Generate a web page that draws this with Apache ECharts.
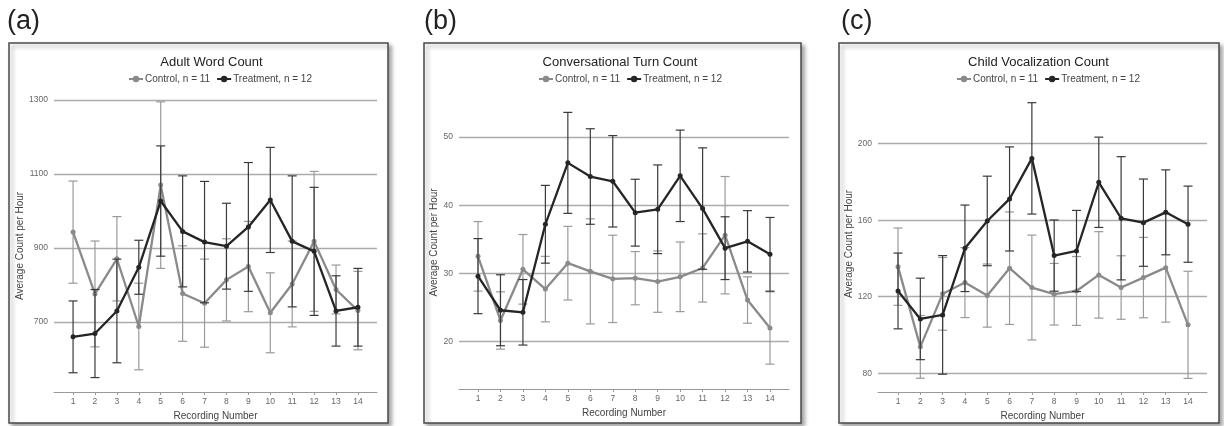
<!DOCTYPE html>
<html>
<head>
<meta charset="utf-8">
<script src="https://cdn.jsdelivr.net/npm/echarts@6/dist/echarts.min.js"></script>
<style>
  html, body { margin: 0; padding: 0; background: #fff; }
  #main { width: 1224px; height: 426px; }
</style>
</head>
<body>
<div id="main"></div>
<script>
// recording sessions on the x axis
const recordingNumbers = [1, 2, 3, 4, 5, 6, 7, 8, 9, 10, 11, 12, 13, 14]
const groupNames = ['Control, n = 11', 'Treatment, n = 12']
const panelLetters = ['(a)', '(b)', '(c)']
const panelTitles = ['Adult Word Count', 'Conversational Turn Count', 'Child Vocalization Count']

// (a) adult word count: means and error bar half-widths
const awcControl = [943, 776, 871, 688, 1070, 777, 751, 814, 850, 725, 803, 918, 788, 731]
const awcControlErr = [138, 143, 114, 117, 225, 129, 119, 111, 122, 108, 116, 189, 66, 106]
const awcTreatment = [660, 669, 730, 848, 1027, 945, 916, 905, 957, 1030, 918, 891, 730, 740]
const awcTreatmentErr = [97, 119, 140, 73, 149, 150, 164, 116, 174, 142, 177, 173, 95, 105]
const awcTicks = [700, 900, 1100, 1300]

// (b) conversational turn count
const ctcControl = [32.5, 23.1, 30.6, 27.7, 31.5, 30.3, 29.2, 29.3, 28.8, 29.5, 30.8, 35.6, 26.1, 22.0]
const ctcControlErr = [5.1, 4.2, 5.1, 4.8, 5.4, 7.7, 6.4, 3.9, 4.5, 5.1, 5.0, 8.6, 3.4, 5.3]
const ctcTreatment = [29.6, 24.6, 24.3, 37.2, 46.2, 44.2, 43.5, 38.9, 39.4, 44.3, 39.5, 33.7, 34.7, 32.8]
const ctcTreatmentErr = [5.5, 5.2, 4.8, 5.7, 7.4, 7.0, 6.7, 4.9, 6.5, 6.7, 8.9, 4.6, 4.5, 5.4]
const ctcTicks = [20, 30, 40, 50]

// (c) child vocalization count
const cvcControl = [135.7, 93.8, 121.5, 127.4, 120.6, 134.9, 124.8, 121.3, 123.0, 131.4, 124.8, 130.0, 135.2, 105.3]
const cvcControlErr = [20.2, 16.4, 19.0, 18.3, 16.5, 29.4, 27.4, 16.1, 18.0, 22.6, 16.6, 21.0, 28.5, 28.0]
const cvcTreatment = [123.0, 108.4, 110.5, 145.3, 159.6, 171.1, 192.3, 141.5, 143.9, 179.8, 161.0, 158.7, 164.1, 157.9]
const cvcTreatmentErr = [19.8, 21.3, 31.0, 22.6, 23.4, 27.2, 29.1, 18.6, 21.2, 23.6, 32.2, 22.8, 22.2, 19.9]
const cvcTicks = [80, 120, 160, 200]

const FONT = '"Liberation Sans", Arial, Helvetica, sans-serif'
const CONTROL_COLOR = '#8a8a8a'
const TREAT_COLOR = '#252525'

// panel geometry (pixels) and axis extents
const panels = [
    { frame: [9, 43, 379, 380], grid: { left: 54, top: 100, width: 323, height: 292 },
      xMin: 0.13, xMax: 14.87, yMin: 511, yMax: 1300, nameGap: 19, legendLeft: 128, letterX: 7,
      ticks: awcTicks, control: awcControl, controlErr: awcControlErr, treat: awcTreatment, treatErr: awcTreatmentErr },
    { frame: [424, 43, 377, 380], grid: { left: 459, top: 96, width: 330, height: 293 },
      xMin: 0.154, xMax: 14.846, yMin: 13.06, yMax: 56, nameGap: 15, legendLeft: 538, letterX: 424,
      ticks: ctcTicks, control: ctcControl, controlErr: ctcControlErr, treat: ctcTreatment, treatErr: ctcTreatmentErr },
    { frame: [839, 43, 380, 380], grid: { left: 878, top: 96, width: 329, height: 296 },
      xMin: 0.103, xMax: 14.85, yMin: 70.2, yMax: 224.9, nameGap: 17, legendLeft: 956, letterX: 841,
      ticks: cvcTicks, control: cvcControl, controlErr: cvcControlErr, treat: cvcTreatment, treatErr: cvcTreatmentErr }
]

const errorBars = (color) => (params, api) => {
    const x = api.value(0), m = api.value(1), e = api.value(2)
    const hi = api.coord([x, m + e])
    const lo = api.coord([x, m - e])
    const w = 4.5
    const style = { stroke: color, lineWidth: 1.2 }
    return {
        type: 'group',
        children: [
            { type: 'line', shape: { x1: hi[0], y1: hi[1], x2: lo[0], y2: lo[1] }, style },
            { type: 'line', shape: { x1: hi[0] - w, y1: hi[1], x2: hi[0] + w, y2: hi[1] }, style },
            { type: 'line', shape: { x1: lo[0] - w, y1: lo[1], x2: lo[0] + w, y2: lo[1] }, style }
        ]
    }
}

const grids = [], xAxes = [], yAxes = [], legends = [], lineSeries = [], barSeries = [], graphics = []

panels.forEach((p, i) => {
    grids.push(p.grid)
    xAxes.push({
        type: 'value', gridIndex: i, min: p.xMin, max: p.xMax,
        name: 'Recording Number', nameLocation: 'middle', nameGap: 13,
        nameTextStyle: { fontFamily: FONT, fontSize: 10, color: '#444' },
        axisLine: { show: true, lineStyle: { color: '#999', width: 1 } },
        axisTick: { show: true, length: 3, customValues: recordingNumbers, lineStyle: { color: '#999' } },
        axisLabel: { customValues: recordingNumbers, fontFamily: FONT, fontSize: 8.5, color: '#666', margin: 5 },
        splitLine: { show: false }
    })
    yAxes.push({
        type: 'value', gridIndex: i, min: p.yMin, max: p.yMax,
        name: 'Average Count per Hour', nameLocation: 'middle', nameGap: p.nameGap,
        nameTextStyle: { fontFamily: FONT, fontSize: 10, color: '#444' },
        axisLine: { show: false },
        axisTick: { show: false, customValues: p.ticks },
        axisLabel: { customValues: p.ticks, formatter: v => String(v), fontFamily: FONT, fontSize: 8.5, color: '#666', margin: 6 },
        splitLine: { show: true, lineStyle: { color: '#ababab', width: 1.3 } }
    })
    legends.push({
        left: p.legendLeft, top: 74, padding: 0, itemGap: 6,
        itemWidth: 14, itemHeight: 8,
        data: groupNames,
        textStyle: { fontFamily: FONT, fontSize: 10, color: '#444', padding: [0, 0, 0, -3] }
    })
    const ctrl = recordingNumbers.map((r, k) => [r, p.control[k], p.controlErr[k]])
    const trt = recordingNumbers.map((r, k) => [r, p.treat[k], p.treatErr[k]])
    // line series first so the legend takes its icons from them
    lineSeries.push(
        { name: groupNames[0], type: 'line', xAxisIndex: i, yAxisIndex: i, data: ctrl.map(d => [d[0], d[1]]),
          symbol: 'circle', symbolSize: 5, color: CONTROL_COLOR,
          lineStyle: { width: 2.3, color: CONTROL_COLOR }, itemStyle: { color: CONTROL_COLOR }, z: 3 },
        { name: groupNames[1], type: 'line', xAxisIndex: i, yAxisIndex: i, data: trt.map(d => [d[0], d[1]]),
          symbol: 'circle', symbolSize: 5, color: TREAT_COLOR,
          lineStyle: { width: 2.3, color: TREAT_COLOR }, itemStyle: { color: TREAT_COLOR }, z: 5 }
    )
    barSeries.push(
        { name: groupNames[0], type: 'custom', xAxisIndex: i, yAxisIndex: i, data: ctrl, color: '#9a9a9a',
          renderItem: errorBars('#9a9a9a'), encode: { x: 0, y: 1 }, z: 2, silent: true },
        { name: groupNames[1], type: 'custom', xAxisIndex: i, yAxisIndex: i, data: trt, color: '#3a3a3a',
          renderItem: errorBars('#3a3a3a'), encode: { x: 0, y: 1 }, z: 4, silent: true }
    )
    const [fx, fy, fw, fh] = p.frame
    graphics.push(
        { type: 'rect', z: -10, shape: { x: fx, y: fy, width: fw, height: fh },
          style: { fill: '#fff', stroke: '#4a4a4a', lineWidth: 1.5,
                   shadowBlur: 4, shadowOffsetX: 3, shadowOffsetY: 3, shadowColor: 'rgba(0,0,0,0.35)' } },
        { type: 'text', x: p.letterX, y: 8, style: { text: panelLetters[i], fill: '#222', font: '27px ' + FONT } },
        { type: 'text', x: p.grid.left + p.grid.width / 2 - 4, y: 62,
          style: { text: panelTitles[i], fill: '#222', font: '13px ' + FONT, align: 'center', verticalAlign: 'middle' } }
    )
})

const chart = echarts.init(document.getElementById('main'), null, { renderer: 'canvas' })
chart.setOption({
    animation: false,
    backgroundColor: '#fff',
    grid: grids,
    xAxis: xAxes,
    yAxis: yAxes,
    legend: legends,
    graphic: graphics,
    series: lineSeries.concat(barSeries)
})
</script>
</body>
</html>
